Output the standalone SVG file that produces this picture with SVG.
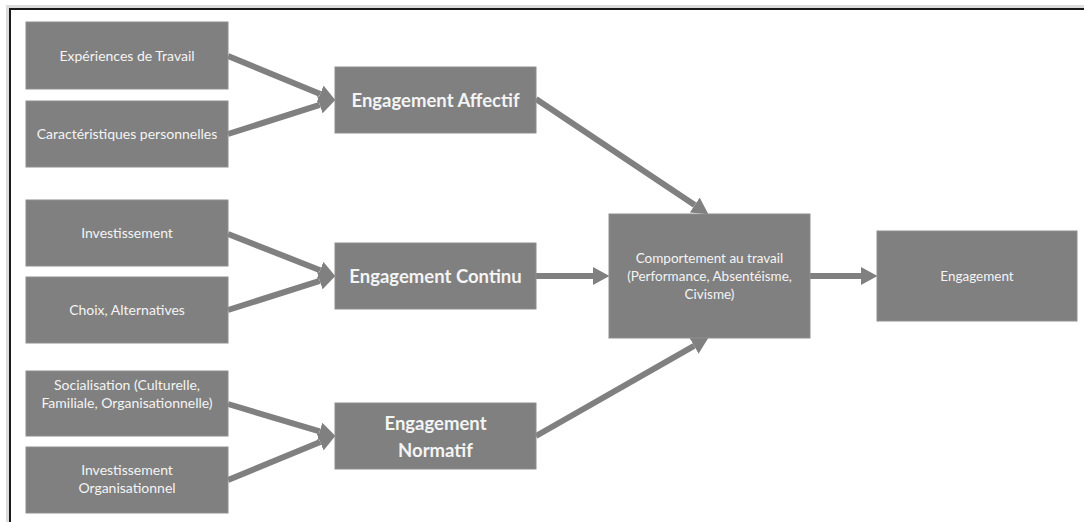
<svg xmlns="http://www.w3.org/2000/svg" width="1084" height="522" viewBox="0 0 1084 522">
  <style>
    .box { fill: #808080; stroke: #8e8e8e; stroke-width: 1; }
    .t { font-family: Lato, "Open Sans", "Liberation Sans", sans-serif; fill: #f4f4f4; text-anchor: middle; font-size: 14px; }
    .tm { font-size: 13.5px; }
    .tb { font-weight: bold; font-size: 18.5px; }
    .conn { stroke: #808080; stroke-width: 6; fill: none; marker-end: url(#ah); }
  </style>
  <defs>
    <marker id="ah" markerUnits="userSpaceOnUse" markerWidth="17" markerHeight="18" refX="0" refY="9" orient="auto" viewBox="0 0 17 18">
      <path d="M0,0 L16.5,9 L0,18 z" fill="#808080"/>
    </marker>
  </defs>
  <rect x="0" y="0" width="1084" height="522" fill="#ffffff"/>
  <rect x="6" y="5" width="1078" height="3" fill="#dcdcdc"/>
  <rect x="6" y="5" width="3" height="517" fill="#dcdcdc"/>
  <path d="M10,522 L10,9 L1084,9" fill="none" stroke="#1a1a1a" stroke-width="2"/>

  <g id="connectors">
    <line class="conn" x1="228" y1="56" x2="320.2" y2="93.9"/>
    <line class="conn" x1="228" y1="134" x2="319.8" y2="104.8"/>
    <line class="conn" x1="228" y1="234" x2="320.1" y2="270.2"/>
    <line class="conn" x1="228" y1="310" x2="319.8" y2="280.8"/>
    <line class="conn" x1="228" y1="404" x2="319.7" y2="431.4"/>
    <line class="conn" x1="228" y1="480" x2="320.2" y2="442.1"/>
    <line class="conn" x1="536" y1="99" x2="694.7" y2="205.1"/>
    <line class="conn" x1="536" y1="436" x2="694.1" y2="345.9"/>
    <line class="conn" x1="536" y1="276" x2="593" y2="276"/>
    <line class="conn" x1="810" y1="276" x2="861" y2="276"/>
  </g>

  <g id="n-experiences">
    <rect class="box" x="26" y="22" width="202" height="67"/>
    <text class="t" x="127" y="61">Expériences de Travail</text>
  </g>
  <g id="n-caracteristiques">
    <rect class="box" x="26" y="101" width="202" height="66"/>
    <text class="t" x="127" y="139">Caractéristiques personnelles</text>
  </g>
  <g id="n-investissement">
    <rect class="box" x="26" y="200" width="202" height="66"/>
    <text class="t" x="127" y="238">Investissement</text>
  </g>
  <g id="n-choix">
    <rect class="box" x="26" y="277" width="202" height="66"/>
    <text class="t" x="127" y="315">Choix, Alternatives</text>
  </g>
  <g id="n-socialisation">
    <rect class="box" x="26" y="371" width="202" height="65"/>
    <text class="t" x="127" y="390">Socialisation (Culturelle,</text>
    <text class="t" x="127" y="408">Familiale, Organisationnelle)</text>
  </g>
  <g id="n-invorg">
    <rect class="box" x="26" y="447" width="202" height="66"/>
    <text class="t" x="127" y="475">Investissement</text>
    <text class="t" x="127" y="493">Organisationnel</text>
  </g>
  <g id="n-affectif">
    <rect class="box" x="335" y="67" width="201" height="66"/>
    <text class="t tb" x="435.5" y="107">Engagement Affectif</text>
  </g>
  <g id="n-continu">
    <rect class="box" x="335" y="243" width="201" height="66"/>
    <text class="t tb" x="435.5" y="283">Engagement Continu</text>
  </g>
  <g id="n-normatif">
    <rect class="box" x="335" y="403" width="201" height="66"/>
    <text class="t tb" x="435.5" y="430">Engagement</text>
    <text class="t tb" x="435.5" y="457">Normatif</text>
  </g>
  <g id="n-comportement">
    <rect class="box" x="609" y="214" width="201" height="124"/>
    <text class="t tm" x="709.5" y="263">Comportement au travail</text>
    <text class="t tm" x="709.5" y="281">(Performance, Absentéisme,</text>
    <text class="t tm" x="709.5" y="299">Civisme)</text>
  </g>
  <g id="n-engagement">
    <rect class="box" x="877" y="231" width="200" height="90"/>
    <text class="t tm" x="977" y="281">Engagement</text>
  </g>
</svg>
